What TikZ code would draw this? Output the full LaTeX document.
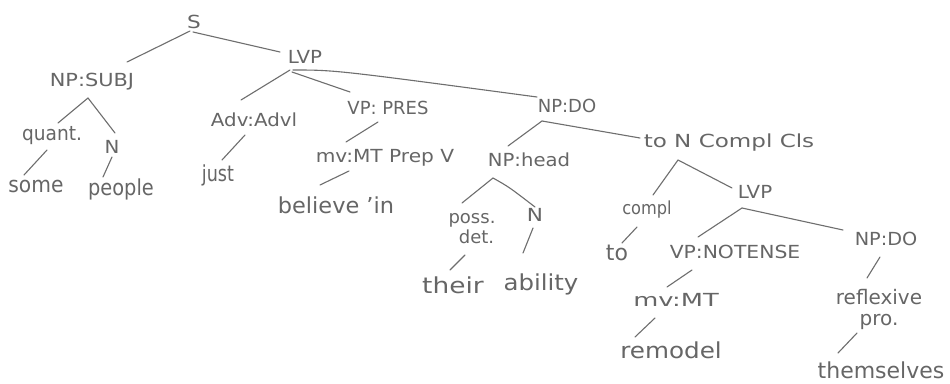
\documentclass[tikz,border=0pt]{standalone}
\usepackage{graphicx}
\usepackage{fontspec}
\setmainfont{DejaVu Sans}
\definecolor{pencil}{HTML}{666666}
\definecolor{lead}{HTML}{6E6E6E}
\newcommand{\hw}[2]{\scalebox{#1}[1]{#2}}
\begin{document}
\begin{tikzpicture}[x=1pt,y=-1pt,
  lbl/.style={text=pencil, inner sep=0pt, font=\fontsize{18}{20}\selectfont, align=center},
  lblm/.style={lbl, font=\fontsize{20}{21}\selectfont},
  lblw/.style={lbl, font=\fontsize{22}{24}\selectfont},
  br/.style={draw=lead, line width=1.1pt, line cap=round}]
\useasboundingbox (0,0) rectangle (950,383);
\fill[white] (0,0) rectangle (950,383);

% nodes
\node[lbl]  (s)        at (194,22)  {\hw{1.2}{S}};
\node[lbl]  (lvp1)     at (305,57)  {\hw{1.1}{LVP}};
\node[lbl]  (npsubj)   at (92,82)   {\hw{1.16}{NP:SUBJ}};
\node[lblm] (quant)    at (52,136)  {\hw{0.93}{quant.}};
\node[lbl]  (n1)       at (112,147) {\hw{1.1}{N}};
\node[lblw] (some)     at (36,186)  {\hw{0.92}{some}};
\node[lblw] (people)   at (121,189) {\hw{0.88}{people}};
\node[lbl]  (adv)      at (254,120) {\hw{1.1}{Adv:Advl}};
\node[lblw] (just)     at (218,175) {\hw{0.8}{just}};
\node[lbl]  (vppres)   at (388,108) {VP: PRES};
\node[lbl]  (mvmt1)    at (385,158) {\hw{1.12}{mv:MT Prep V}};
\node[lblw] (believe)  at (336,205) {\hw{1.02}{believe 'in}};
\node[lbl]  (npdo1)    at (567,106) {NP:DO};
\node[lbl]  (nphead)   at (529,160) {\hw{1.09}{NP:head}};
\node[lbl]  (tonc)     at (729,143) {\hw{1.28}{to N Compl Cls}};
\node[lbl]  (poss)     at (472,229) {poss.\\\hspace*{9pt}det.};
\node[lblw] (their)    at (453,285) {\hw{1.2}{their}};
\node[lbl]  (n2)       at (535,215) {\hw{1.2}{N}};
\node[lblw] (ability)  at (541,284) {\hw{1.11}{ability}};
\node[lbl]  (lvp2)     at (755,192) {\hw{1.1}{LVP}};
\node[lbl]  (compl)    at (647,210) {\hw{0.9}{compl}};
\node[lblw] (to)       at (617,253) {to};
\node[lbl]  (vpnt)     at (735,252) {\hw{1.13}{VP:NOTENSE}};
\node[lbl]  (npdo2)    at (886,239) {\hw{1.07}{NP:DO}};
\node[lbl]  (mvmt2)    at (676,300) {\hw{1.43}{mv:MT}};
\node[lblw] (remodel)  at (671,350) {\hw{1.12}{remodel}};
\node[lblm] (refl)     at (879,309) {reflexive\\pro.};
\node[lblw] (themselves) at (881,370) {themselves};

% branches
\draw[br] ([shift={(-4,9)}]s.center)        -- ([shift={(35,-20)}]npsubj.center);
\draw[br] ([shift={(-1,10)}]s.center)       -- ([shift={(-25,-5)}]lvp1.center);
\draw[br] ([shift={(-4,16)}]npsubj.center)  -- ([shift={(6,-13)}]quant.center);
\draw[br] ([shift={(-4,16)}]npsubj.center)  -- ([shift={(3,-14)}]n1.center);
\draw[br] ([shift={(-5,14)}]quant.center)   -- ([shift={(-12,-11)}]some.center);
\draw[br] ([shift={(0,10)}]n1.center)       -- ([shift={(-18,-12)}]people.center);
\draw[br] ([shift={(-15,13)}]lvp1.center)   -- ([shift={(-13,-20)}]adv.center);
\draw[br] ([shift={(-13,15)}]lvp1.center)   -- ([shift={(-38,-16)}]vppres.center);
\draw[br] ([shift={(-12,13)}]lvp1.center)   .. controls ([shift={(30,13)}]lvp1.center) .. ([shift={(-30,-9)}]npdo1.center);
\draw[br] ([shift={(-9,15)}]adv.center)     -- ([shift={(4,-15)}]just.center);
\draw[br] ([shift={(-10,14)}]vppres.center) -- ([shift={(-39,-16)}]mvmt1.center);
\draw[br] ([shift={(-36,13)}]mvmt1.center)  -- ([shift={(-16,-20)}]believe.center);
\draw[br] ([shift={(-25,15)}]npdo1.center)  -- ([shift={(-21,-14)}]nphead.center);
\draw[br] ([shift={(-25,15)}]npdo1.center)  -- ([shift={(-89,-5)}]tonc.center);
\draw[br] ([shift={(-36,18)}]nphead.center) -- ([shift={(-10,-26)}]poss.center);
\draw[br] ([shift={(-36,18)}]nphead.center) .. controls ([shift={(-20,27)}]nphead.center) .. ([shift={(0,-8)}]n2.center);
\draw[br] ([shift={(-7,26)}]poss.center)    -- ([shift={(-3,-15)}]their.center);
\draw[br] ([shift={(-2,13)}]n2.center)      -- ([shift={(-18,-31)}]ability.center);
\draw[br] ([shift={(-51,17)}]tonc.center)   -- ([shift={(6,-15)}]compl.center);
\draw[br] ([shift={(-51,17)}]tonc.center)   -- ([shift={(-23,-4)}]lvp2.center);
\draw[br] ([shift={(-10,17)}]compl.center)  -- ([shift={(5,-10)}]to.center);
\draw[br] ([shift={(-13,16)}]lvp2.center)   -- ([shift={(-37,-15)}]vpnt.center);
\draw[br] ([shift={(-13,16)}]lvp2.center)   -- ([shift={(-43,-9)}]npdo2.center);
\draw[br] ([shift={(-43,18)}]vpnt.center)   -- ([shift={(-9,-13)}]mvmt2.center);
\draw[br] ([shift={(-21,18)}]mvmt2.center)  -- ([shift={(-36,-13)}]remodel.center);
\draw[br] ([shift={(-6,18)}]npdo2.center)   -- ([shift={(-12,-31)}]refl.center);
\draw[br] ([shift={(-22,24)}]refl.center)   -- ([shift={(-43,-17)}]themselves.center);
\end{tikzpicture}
\end{document}
